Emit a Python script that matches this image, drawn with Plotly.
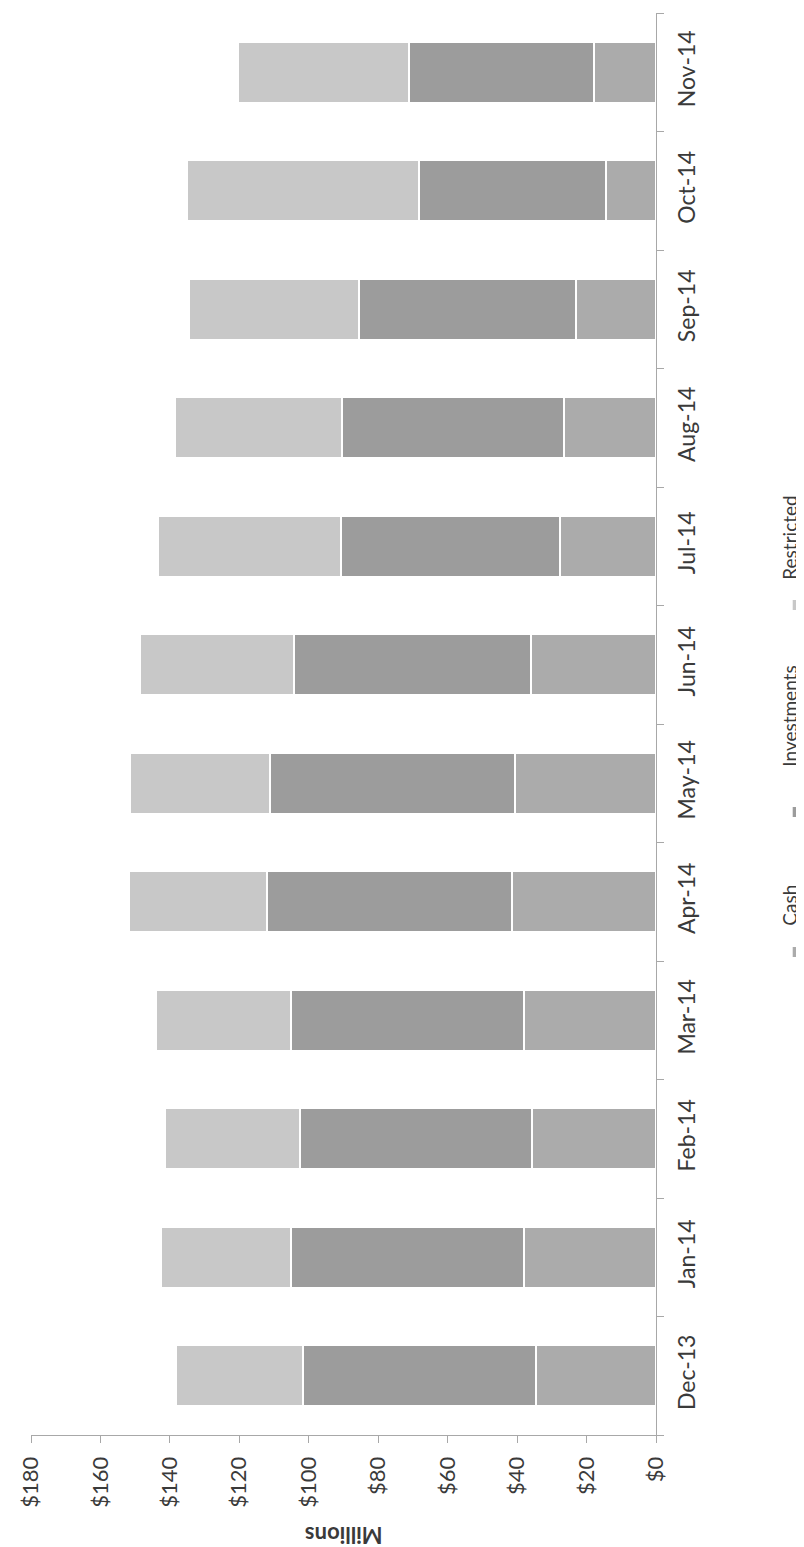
import plotly.graph_objects as go

months = ["Dec-13", "Jan-14", "Feb-14", "Mar-14", "Apr-14", "May-14",
          "Jun-14", "Jul-14", "Aug-14", "Sep-14", "Oct-14", "Nov-14"]
cash = [34.6, 38.1, 35.7, 38.0, 41.5, 40.6, 36.1, 27.7, 26.5, 22.9, 14.4, 17.9]
investments = [67.2, 67.0, 66.9, 67.0, 70.5, 70.6, 68.2, 63.0, 64.0, 62.7, 53.8, 53.1]
restricted = [36.3, 37.6, 38.7, 39.0, 39.9, 40.3, 44.3, 52.7, 47.9, 48.8, 67.0, 49.5]

series_names = ["Cash", "Investments", "Restricted"]
series_colors = ["#ababab", "#9c9c9c", "#c8c8c8"]
value_ticks = [0, 20, 40, 60, 80, 100, 120, 140, 160, 180]

W, H = 804, 1547
L, R, T, B = 23.3, 155.7, 5, 120
FONT = "Lato, 'Open Sans', sans-serif"
TXT = "#3a3a3a"
AX = "#a8a8a8"

fig = go.Figure()
for name, vals, col in zip(series_names, [cash, investments, restricted], series_colors):
    fig.add_trace(go.Bar(
        y=months, x=vals, name=name, orientation="h",
        marker=dict(color=col, line=dict(color="white", width=2)),
        showlegend=False,
    ))

pw, ph = W - L - R, H - T - B


def px2paper(px, py):
    return (px - L) / pw, (H - B - py) / ph


annotations = []
shapes = []
# "Millions" axis title (upside down)
mx, my = px2paper(336, 1528)
annotations.append(dict(text="<b>Millions</b>", x=mx, y=my, xref="paper", yref="paper",
                        showarrow=False, textangle=180, xanchor="center", yanchor="middle",
                        font=dict(family=FONT, size=22, color=TXT)))

# legend built from rotated text
legend_text_pos = {"Cash": 897, "Investments": 708, "Restricted": 530}
legend_mark_pos = {"Cash": 944, "Investments": 804, "Restricted": 597}
for name, col in zip(series_names, series_colors):
    tx, ty = px2paper(781, legend_text_pos[name])
    annotations.append(dict(text=name, x=tx, y=ty, xref="paper", yref="paper",
                            showarrow=False, textangle=-90, xanchor="center", yanchor="middle",
                            font=dict(family=FONT, size=19, color=TXT)))
    x0, y0 = px2paper(785, legend_mark_pos[name] + 5)
    x1, y1 = px2paper(795, legend_mark_pos[name] - 5)
    shapes.append(dict(type="rect", xref="paper", yref="paper", x0=x0, y0=y0, x1=x1, y1=y1,
                       fillcolor=col, line=dict(width=0)))

fig.update_layout(
    width=W, height=H,
    margin=dict(l=L, r=R, t=T, b=B, pad=0),
    barmode="stack", bargap=0.485,
    plot_bgcolor="white", paper_bgcolor="white",
    showlegend=False,
    annotations=annotations, shapes=shapes,
    font=dict(family=FONT, color=TXT),
)
fig.update_xaxes(
    range=[180, 0], tickvals=value_ticks, ticktext=[f"${v}" for v in value_ticks],
    tickangle=-90, ticks="outside", ticklen=7, tickcolor=AX,
    showline=True, linecolor=AX, linewidth=1, showgrid=False, zeroline=False,
    tickfont=dict(family=FONT, size=22, color=TXT), ticklabelstandoff=5,
)
fig.update_yaxes(
    side="right", tickangle=-90, ticks="outside", ticklen=7, tickcolor=AX,
    tickson="boundaries", showline=True, linecolor=AX, linewidth=1,
    showgrid=False, zeroline=False,
    tickfont=dict(family=FONT, size=23, color=TXT), ticklabelstandoff=10,
)

fig.write_html("out.html")
